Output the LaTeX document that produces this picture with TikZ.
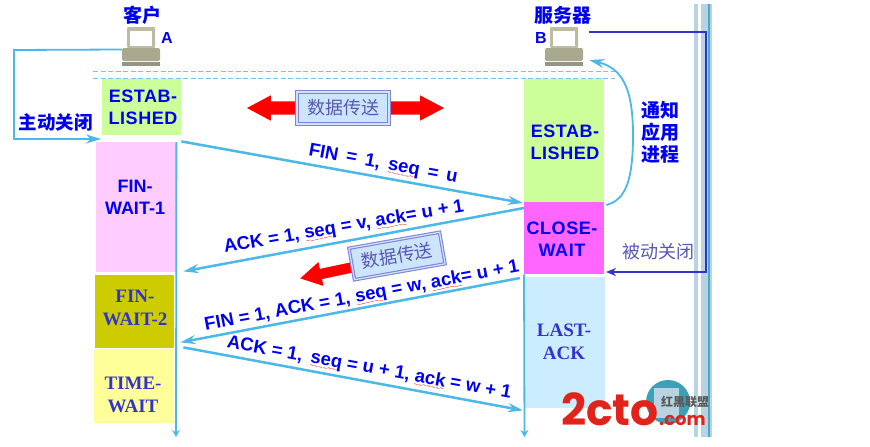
\documentclass[tikz,border=0pt]{standalone}
\usepackage{fontspec}
\setmainfont{Liberation Sans}
\newfontfamily\cjk{Noto Sans CJK SC}
\newfontfamily\timesfont{Liberation Serif}
\newfontfamily\logofont{Poppins}
\usetikzlibrary{arrows.meta,positioning,shapes.arrows,calc}
\definecolor{msgblue}{RGB}{76,184,232}
\definecolor{txtblue}{RGB}{0,0,240}
\definecolor{darkline}{RGB}{51,51,204}
\definecolor{softblue}{RGB}{88,88,178}
\definecolor{boxedge}{RGB}{130,130,215}
\definecolor{boxfill}{RGB}{204,229,252}
\definecolor{estabgreen}{RGB}{204,255,153}
\definecolor{finpink}{RGB}{255,204,255}
\definecolor{finolive}{RGB}{204,204,0}
\definecolor{timeyellow}{RGB}{255,255,153}
\definecolor{closepink}{RGB}{255,102,255}
\definecolor{lastblue}{RGB}{204,236,255}
\definecolor{barblue}{RGB}{184,212,226}
\definecolor{barteal}{RGB}{70,170,195}
\definecolor{pcgrey}{RGB}{188,188,160}
\definecolor{logored}{RGB}{224,36,28}
\definecolor{logoteal}{RGB}{60,160,185}
\newcommand{\squig}[1]{\setbox0\hbox{#1}\rlap{\raisebox{-5pt}{\textcolor{red}{\hbox to \wd0{\xleaders\hbox{\mdseries\fontsize{7}{7}\selectfont\char`\~}\hfil}}}}\box0\relax}
\begin{document}
\begin{tikzpicture}[x=1pt, y=-1pt,
            state/.style={rectangle, anchor=north west, inner sep=0pt},
            statetext/.style={inner sep=0pt, align=center, text=txtblue, font=\fontsize{18}{22}\selectfont\bfseries},
            widetext/.style={statetext, font=\fontsize{18}{22}\selectfont\bfseries\addfontfeature{LetterSpace=3}},
            seriftext/.style={statetext, text=darkline, font=\fontsize{19}{23}\selectfont\timesfont\bfseries},
            msg/.style={-{Stealth[length=15pt, width=9pt]}, line width=2.5pt, msgblue},
            life/.style={-{Stealth[length=7pt, width=8pt]}, line width=1.8pt, msgblue},
            label/.style={text=txtblue, inner sep=0pt, font=\fontsize{18.5}{20}\selectfont\bfseries},
            cjklabel/.style={text=txtblue, inner sep=0pt, align=center, font=\fontsize{19}{22}\selectfont\cjk\bfseries},
            softlabel/.style={text=softblue, inner sep=0pt, font=\fontsize{18}{20}\selectfont\cjk},
            databox/.style={draw=boxedge, line width=1.1pt, double=boxfill, double distance=1.2pt, fill=boxfill, inner sep=0pt, minimum width=92pt, minimum height=32pt, text=softblue, font=\fontsize{18}{20}\selectfont\cjk},
            divider/.style={dash pattern=on 5pt off 2.5pt, msgblue!80, line width=1pt},
            pics/pc/.style={code={
                \fill[pcgrey, rounded corners=1pt] (-14,0) rectangle (14,21);
                \fill[white] (-11,4) rectangle (11,19);
                \fill[pcgrey!90!black, rounded corners=2pt] (-19,21) rectangle (19,34);
                \fill[pcgrey!80!black] (-19,35) rectangle (19,39);
            }}
        ]
        \useasboundingbox (0,0) rectangle (870,447);
        \fill[white] (0,0) rectangle (870,447);

        \fill[barblue] (694,4) rectangle (698,437);
        \fill[barblue] (701,4) rectangle (708,437);
        \fill[barteal] (708,4) rectangle (709.5,437);
        \fill[barblue] (709.5,4) rectangle (712,437);

        \draw[divider] (93,71.5) -- (615,71.5);
        \draw[divider] (93,78.5) -- (615,78.5);

        \pic at (141,27) {pc};
        \pic at (564,27) {pc};
        \node[minimum width=38pt, minimum height=39pt, inner sep=0pt] (pcA) at (141,46.5) {};
        \node[minimum width=38pt, minimum height=39pt, inner sep=0pt] (pcB) at (564,46.5) {};
        \node[cjklabel] (clientlabel) at (142,15) {客户};
        \node[cjklabel] (serverlabel) at (563,15) {服务器};
        \node[label, font=\fontsize{16}{18}\selectfont\bfseries] (nameA) at (167,38) {A};
        \node[label, font=\fontsize{16}{18}\selectfont\bfseries] (nameB) at (541,38) {B};

        \node[state, fill=estabgreen, minimum width=79pt, minimum height=56pt] (estabA) at (102,79) {};
        \node[state, fill=finpink, minimum width=80pt, minimum height=130pt] (fin1) at (96,142) {};
        \node[state, fill=finolive, minimum width=79pt, minimum height=73pt] (fin2) at (95,275) {};
        \node[state, fill=timeyellow, minimum width=80pt, minimum height=74pt] (timewait) at (94,349) {};
        \node[state, fill=estabgreen, minimum width=80pt, minimum height=123pt] (estabB) at (524,79) {};
        \node[state, fill=closepink, minimum width=80pt, minimum height=72pt] (closeB) at (524,202) {};
        \node[state, fill=lastblue, minimum width=80pt, minimum height=131pt] (lastB) at (525,277) {};

        \node[widetext] (estabAtext) at (143,107) {ESTAB-\\LISHED};
        \node[statetext] (fin1text) at (135,197.5) {FIN-\\WAIT-1};
        \node[seriftext] (fin2text) at (135,307.5) {FIN-\\WAIT-2};
        \node[seriftext] (timetext) at (133,395) {TIME-\\WAIT};
        \node[widetext] (estabBtext) at (565,142.5) {ESTAB-\\LISHED};
        \node[widetext] (closeBtext) at (562,239) {CLOSE-\\WAIT};
        \node[seriftext] (lastBtext) at (564,342) {LAST-\\ACK};

        \coordinate (endA) at (176,437);
        \coordinate (endB) at (524.5,437);
        \draw[life] (fin1.north east) -- (endA);
        \draw[life] (closeB.south west) -- (endB);

        \node[double arrow, fill=red, minimum height=197pt, minimum width=25pt, inner xsep=0pt, inner ysep=6.5pt, double arrow head extend=6pt, double arrow tip angle=56] (flowtop) at (345.5,108) {};
        \node[databox] (datatop) at (343,108) {数据传送};
        \node[single arrow, fill=red, rotate=192, minimum height=62pt, minimum width=24pt, inner xsep=0pt, inner ysep=5pt, single arrow head extend=7pt, single arrow tip angle=60] (flowlow) at (335,271) {};
        \node[databox, rotate=10] (datalow) at (397,256) {数据传送};

        \draw[msg] ([yshift=-6pt]estabA.south east) -- ([shift={(-1pt,-1pt)}]closeB.north west);
        \draw[msg] ([yshift=-6pt]closeB.north west) -- ([shift={(7pt,1pt)}]fin1.south east);
        \draw[msg] ([shift={(-5pt,-1pt)}]lastB.north west) -- ([shift={(6pt,6pt)}]fin2.south east);
        \draw[msg] ([shift={(9pt,1pt)}]fin2.south east) -- ([shift={(-2pt,-2pt)}]lastB.south west);

        \node[label, rotate=-10.5] (finlabel) at (383,165) {FIN \,=\, 1,\, \squig{seq} \,=\, u};
        \node[label, rotate=9.8] (acklabel) at (344,228) {ACK = 1, \squig{seq} = v, \squig{ack}= u + 1};
        \node[label, rotate=10.6] (finacklabel) at (362,297) {FIN = 1, ACK = 1, \squig{seq} = w, \squig{ack}= u + 1};
        \node[label, rotate=-10.2] (lastacklabel) at (369,369) {ACK = 1,\, \squig{seq} = u + 1, \squig{ack} = w + 1};

        \coordinate (turnA) at (14,50);
        \coordinate (closeA) at (101,139);
        \draw[msg, line width=1.8pt] ([yshift=-3pt]pcA.west) -- (turnA) |- (closeA);
        \node[cjklabel, font=\fontsize{18.5}{20}\selectfont\cjk\bfseries] (activeclose) at (56,122) {主动关闭};

        \coordinate (bendB) at (633,135);
        \draw[msg, line width=1.8pt] ([shift={(2pt,-3pt)}]closeB.north east) .. controls (625,200) and (633,182) .. (bendB) .. controls (633,88) and (622,68) .. ([shift={(6pt,-13.5pt)}]pcB.east);
        \node[cjklabel] (notifylabel) at (660,132) {通知\\应用\\进程};

        \coordinate (turnB) at (706,32);
        \coordinate (passiveB) at (606,272);
        \draw[-{Stealth[length=10pt, width=8pt]}, line width=1.8pt, darkline] ([shift={(6pt,14.5pt)}]pcB.east) -- (turnB) |- (passiveB);
        \node[softlabel] (passiveclose) at (658,252) {被动关闭};

        \fill[logoteal] (668,402) circle (22);
        \fill[barblue] (654,388) rectangle (679,418);
        \node[text=logored, inner sep=0pt, anchor=base west, font=\fontsize{44}{44}\selectfont\logofont\bfseries] (logomain) at (561,425) {2cto};
        \node[text=logored, inner sep=0pt, anchor=base west, font=\fontsize{18}{18}\selectfont\logofont\bfseries] (logocom) at (659,425) {.com};
        \node[text=black!65, inner sep=0pt, font=\fontsize{12}{12}\selectfont\cjk\bfseries] (logocn) at (685,402) {红黑联盟};
\end{tikzpicture}
\end{document}
